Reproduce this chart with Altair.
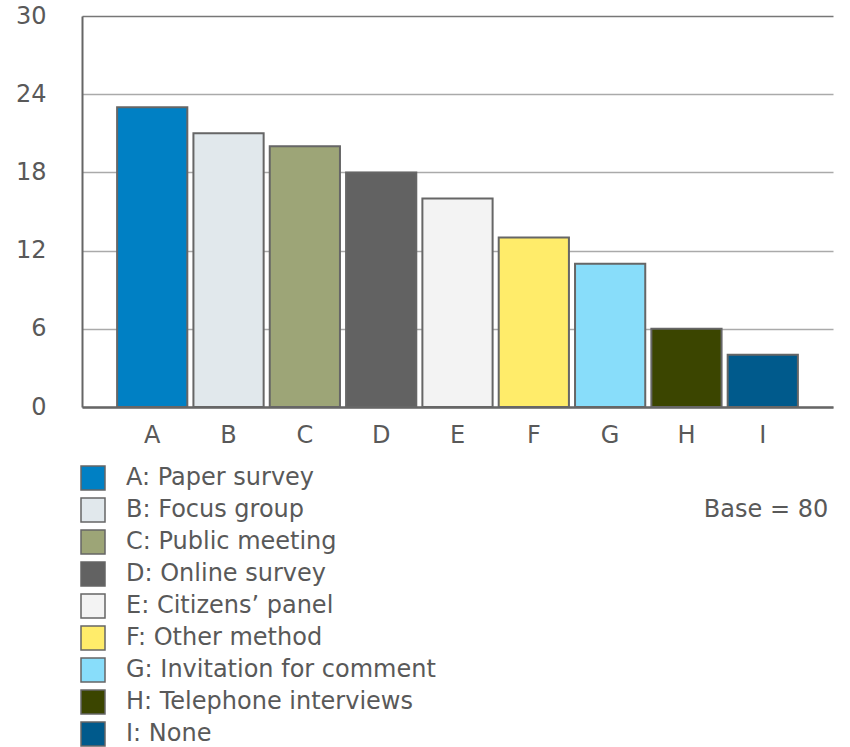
import altair as alt
import pandas as pd

# Consultation methods used, counts out of a base of 80
letters = ["A", "B", "C", "D", "E", "F", "G", "H", "I"]
methods = [
    "Paper survey", "Focus group", "Public meeting", "Online survey",
    "Citizens\u2019 panel", "Other method", "Invitation for comment",
    "Telephone interviews", "None",
]
counts = [23, 21, 20, 18, 16, 13, 11, 6, 4]
colors = ["#0080C4", "#E1E8EC", "#9DA577", "#626262", "#F3F3F3",
          "#FFEC6A", "#88DDFA", "#3B4500", "#005A8C"]
y_ticks = [0, 6, 12, 18, 24, 30]
base_note = "Base = 80"

labels = [f"{l}: {m}" for l, m in zip(letters, methods)]
df = pd.DataFrame({"letter": letters, "label": labels, "count": counts})

FONT = "DejaVu Sans"
TEXT = "#595959"
FS = 24

bars = alt.Chart(df).mark_bar(stroke="#666666", strokeWidth=2).encode(
    x=alt.X(
        "letter:N",
        sort=letters,
        title=None,
        scale=alt.Scale(paddingInner=0.08, paddingOuter=0.46),
        axis=alt.Axis(
            labelAngle=0, ticks=False, domainColor="#666666", domainWidth=2.5,
            labelPadding=16, labelFontSize=FS, labelColor=TEXT, labelFont=FONT,
        ),
    ),
    y=alt.Y(
        "count:Q",
        title=None,
        scale=alt.Scale(domain=[0, 30], nice=False),
        axis=alt.Axis(
            values=y_ticks, ticks=False, domainColor="#666666", domainWidth=2,
            gridColor={"condition": {"test": "datum.value == 30", "value": "#777777"},
                       "value": "#AAAAAA"},
            gridWidth=1.5, labelPadding=36, labelFontSize=FS, labelColor=TEXT,
            labelFont=FONT,
        ),
    ),
    color=alt.Color(
        "label:N",
        sort=labels,
        scale=alt.Scale(domain=labels, range=colors),
        legend=alt.Legend(
            title=None, orient="none", legendX=-2, legendY=449,
            symbolType="square", symbolSize=576, symbolStrokeColor="#666666",
            symbolStrokeWidth=1.5, rowPadding=2, labelOffset=20,
            labelFontSize=FS, labelColor=TEXT, labelFont=FONT, padding=0,
            labelLimit=600,
        ),
    ),
)

note = alt.Chart(pd.DataFrame({"t": [base_note]})).mark_text(
    align="center", baseline="middle", fontSize=FS, color=TEXT, font=FONT,
).encode(text="t:N", x=alt.value(684), y=alt.value(494))

chart = alt.layer(bars, note).properties(
    width=751, height=391,
    autosize=alt.AutoSizeParams(type="none"),
    padding={"left": 82, "top": 16, "right": 17, "bottom": 340},
).configure(background="white", view={"stroke": None})

chart.save("out.html", embed_options={"renderer": "svg", "actions": False})
